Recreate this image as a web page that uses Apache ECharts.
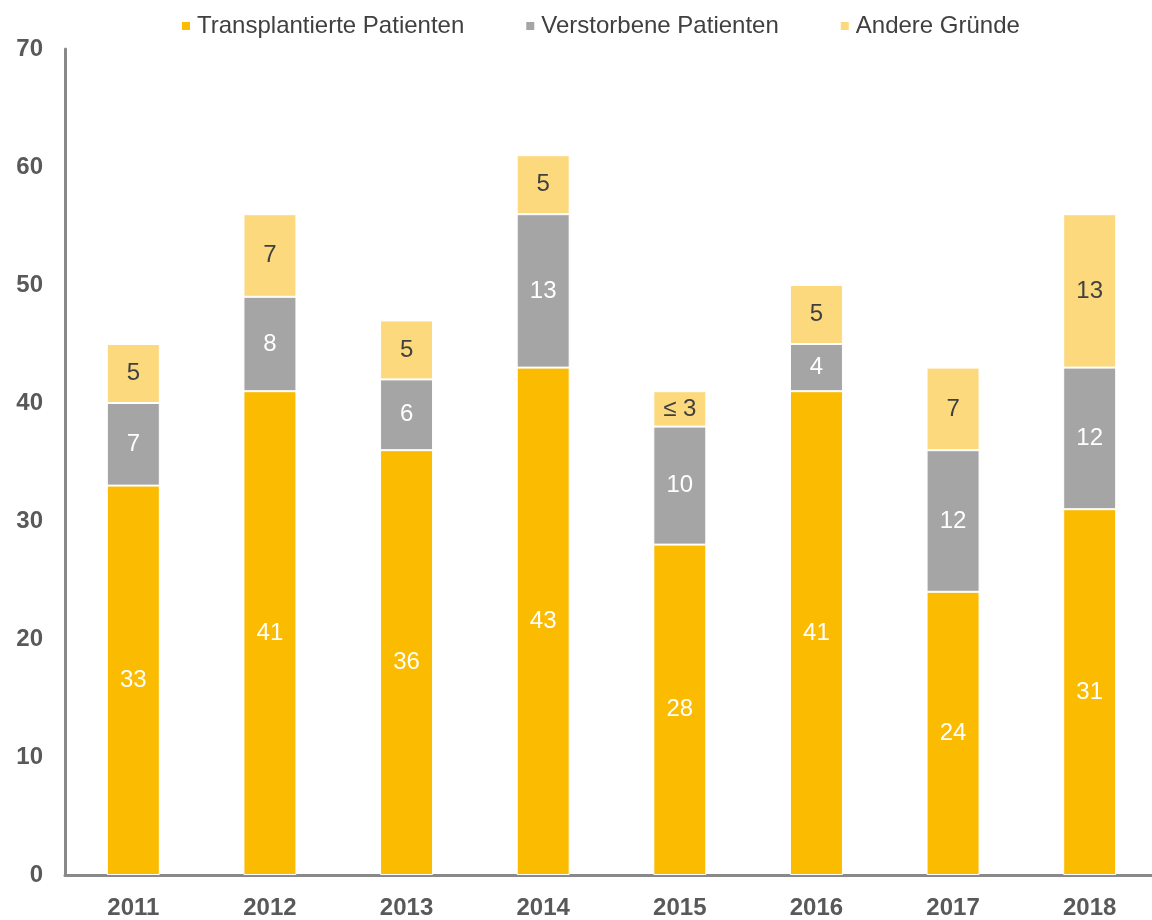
<!DOCTYPE html>
<html><head><meta charset="utf-8">
<script src="https://cdn.jsdelivr.net/npm/echarts@6/dist/echarts.min.js"></script>
<style>html,body{margin:0;padding:0;background:#fff;overflow:hidden}#c{width:1160px;height:920px}</style>
</head><body><div id="c"></div>
<script>
var years = ['2011','2012','2013','2014','2015','2016','2017','2018'];
var transplantiert = [33,41,36,43,28,41,24,31];
var verstorben = [7,8,6,13,10,4,12,12];
var andere = [5,7,5,5,3,5,7,13];
var andereLabels = ['5','7','5','5','≤ 3','5','7','13'];
var seriesNames = ['Transplantierte Patienten','Verstorbene Patienten','Andere Gründe'];
var colors = ['#FABB00','#A5A5A5','#FDD97E'];
var yTicks = [0,10,20,30,40,50,60,70];

var chart = echarts.init(document.getElementById('c'));
var font = '"Liberation Sans", Arial, sans-serif';
function mk(i, data, labelColor, fmt) {
  return {
    name: seriesNames[i], type: 'bar', stack: 't', data: data, barWidth: 53,
    itemStyle: {color: colors[i], borderColor: '#fff', borderWidth: 1},
    label: {show: true, position: 'inside', color: labelColor, fontSize: 24, fontFamily: font,
      formatter: fmt || function(p){return p.value;}}
  };
}
chart.setOption({
  animation: false,
  color: colors,
  legend: {
    top: 9, left: 175, itemWidth: 10, itemHeight: 10, itemGap: 60,
    icon: 'rect',
    textStyle: {fontSize: 24, color: '#404040', fontFamily: font, padding: [0,0,0,1]},
    data: seriesNames
  },
  grid: {left: 65, top: 49, width: 1093, bottom: 43, containLabel: false},
  xAxis: {
    type: 'category', data: years,
    axisLine: {lineStyle: {color: '#898989', width: 3}},
    axisTick: {show: false},
    axisLabel: {fontSize: 24, fontWeight: 'bold', color: '#595959', fontFamily: font, margin: 21}
  },
  yAxis: {
    type: 'value', min: 0, max: 70, interval: 10,
    axisLine: {show: true, lineStyle: {color: '#898989', width: 3}},
    axisTick: {show: false},
    splitLine: {show: false},
    axisLabel: {fontSize: 24, fontWeight: 'bold', color: '#595959', fontFamily: font, margin: 22,
      formatter: function(v){ return yTicks.indexOf(v) >= 0 ? String(v) : ''; }}
  },
  series: [
    mk(0, transplantiert, '#ffffff'),
    mk(1, verstorben, '#ffffff'),
    mk(2, andere, '#404040', function(p){return andereLabels[p.dataIndex];})
  ]
});
</script></body></html>
